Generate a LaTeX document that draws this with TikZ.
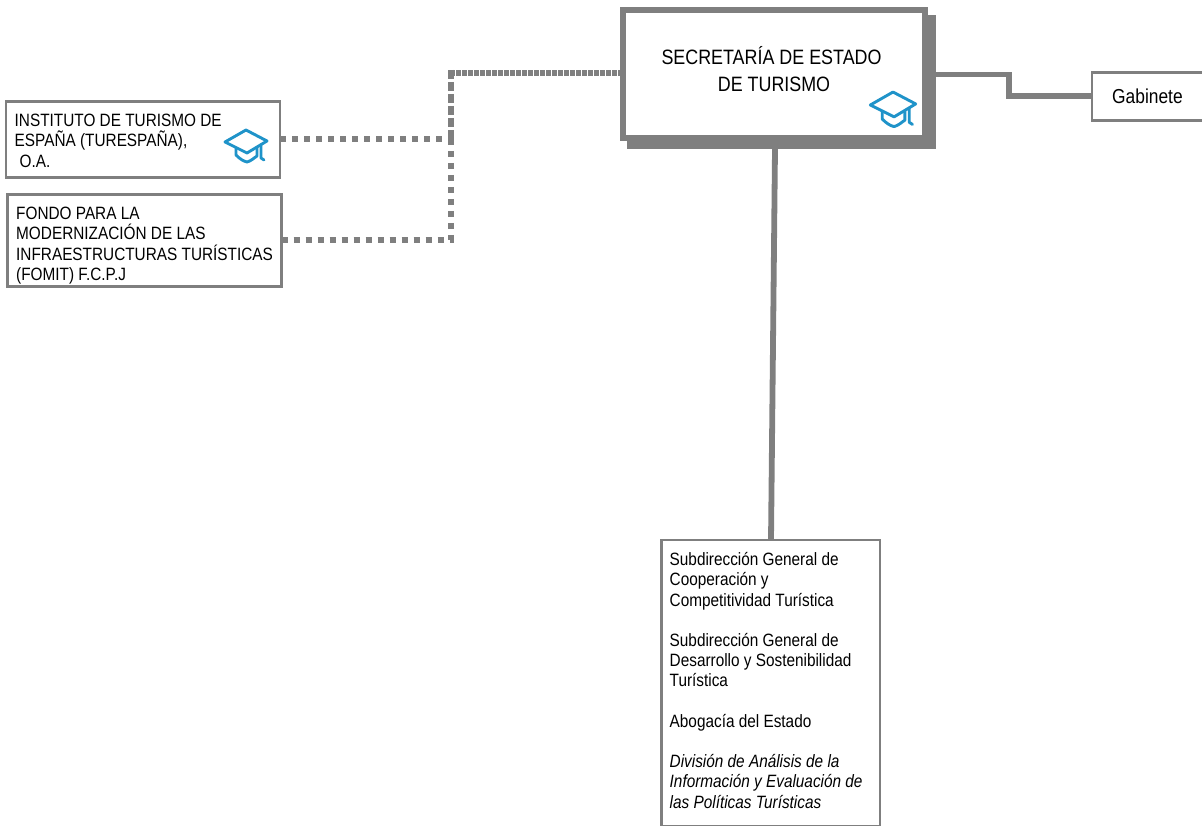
\documentclass[tikz,border=0pt]{standalone}
\usepackage{fontspec}
\setmainfont{Liberation Sans}[FakeStretch=0.86]
\definecolor{linegray}{HTML}{7F7F7F}
\definecolor{capblue}{HTML}{1F93C9}
\tikzset{
  box/.style={draw=linegray,line width=2.5pt,fill=white,rectangle,anchor=north west,inner sep=0pt,outer sep=0pt},
  smalltext/.style={font=\fontsize{17.85}{20.2}\selectfont,align=left,anchor=north west,inner sep=0pt},
  solidlink/.style={draw=linegray,line width=5.8pt},
  dotlink/.style={draw=linegray,line width=5.8pt,dash pattern=on 6pt off 6pt},
  gradcap/.pic={
    \draw[capblue,line width=2.9pt,line join=round,line cap=round,fill=white]
      (-21,0) -- (0,-12) -- (21,-1) -- (1,11) -- cycle;
    \draw[capblue,line width=2.9pt,line join=round,line cap=round]
      (-10,6) -- (-10,13) .. controls (-6,17) and (-3,19) .. (1,20)
      .. controls (5,19) and (8,16) .. (11,14) -- (11,6)
      (15,3) -- (15,16) -- (18,18);
  }
}
\begin{document}
\begin{tikzpicture}[x=1pt,y=-1pt]
\useasboundingbox (0,0) rectangle (1202,826);
% boxes
\fill[linegray] (627,15) rectangle (936,149);
\node[box,line width=6pt,minimum width=302.5pt,minimum height=128pt] (main) at (622.5,10) {};
\node[font=\fontsize{20.8}{26.5}\selectfont,align=center,anchor=center] (maintext) at (771.5,69) {SECRETARÍA DE ESTADO\\\hspace{5pt}DE TURISMO};
\pic[scale=1.08] at (893,105) {gradcap};
\node[box,minimum width=274pt,minimum height=76pt] (ite) at (6,101.5) {};
\node[smalltext] (itetext) at (14.5,114) {INSTITUTO DE TURISMO DE\\ESPAÑA (TURESPAÑA),\\\hspace{5pt}O.A.};
\pic[scale=1.0] at (246,142) {gradcap};
\node[box,minimum width=274pt,minimum height=92pt] (fomit) at (7.5,194.5) {};
\node[smalltext] (fomittext) at (16,207) {FONDO PARA LA\\MODERNIZACIÓN DE LAS\\INFRAESTRUCTURAS TURÍSTICAS\\(FOMIT) F.C.P.J};
\node[box,minimum width=115pt,minimum height=48pt] (gab) at (1092,72.5) {};
\node[font=\fontsize{20.2}{20}\selectfont,anchor=west,inner sep=0pt] (gabtext) at (1112,96.5) {Gabinete};
\node[box,minimum width=218.5pt,minimum height=286pt] (sub) at (661.5,540) {};
\node[smalltext] (subtext) at (669.5,552.3) {Subdirección General de\\Cooperación y\\Competitividad Turística\\[20.2pt]Subdirección General de\\Desarrollo y Sostenibilidad\\Turística\\[20.2pt]Abogacía del Estado\\[20.2pt]\itshape División de Análisis de la\\\itshape Información y Evaluación de\\\itshape las Políticas Turísticas};
% connectors
\coordinate (mainleft) at (main.west |- 0,73);
\coordinate (mainright) at (936,74.5);
\coordinate (maindown) at (775,149);
\coordinate (subtop) at (771,540);
\coordinate (gableft) at (gab.west |- 0,96);
\coordinate (iteright) at (ite.east |- 0,139);
\coordinate (fomitright) at (fomit.east |- 0,240);
\draw[solidlink] (maindown) -- (subtop);
\draw[solidlink] (mainright) -- (1009,74.5) -- (1009,96) -- (gableft);
\draw[dotlink,dash pattern=on 5pt off 1pt] (mainleft) -- (448,73);
\draw[dotlink,dash pattern=on 9pt off 3pt] (451,70) -- (451,139);
\draw[dotlink] (451,139) -- (451,240);
\draw[dotlink] (iteright) -- (451,139);
\draw[dotlink] (fomitright) -- (454,240);
\end{tikzpicture}
\end{document}
